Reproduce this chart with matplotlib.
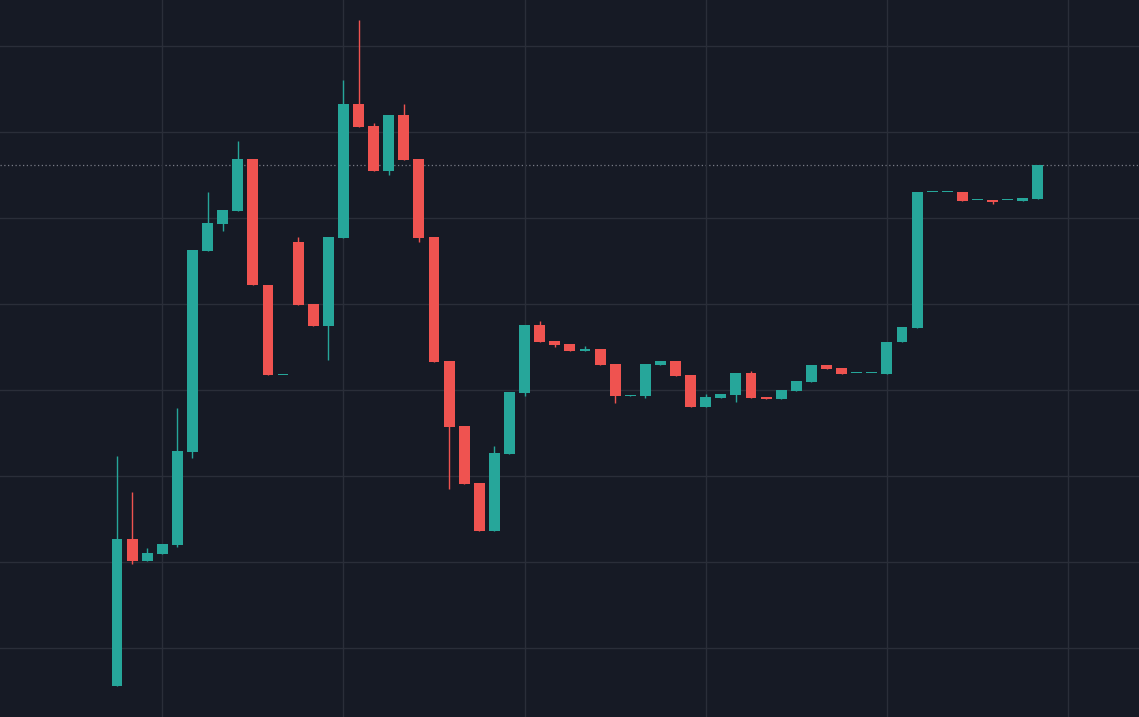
import matplotlib
matplotlib.use("Agg")
import matplotlib.pyplot as plt

# prices (arbitrary units)
opens  = [31, 178, 156, 163, 172, 265, 466, 493, 506, 558, 432, 342, 475, 413, 391, 479, 613, 591, 546, 602, 558, 480, 356, 291, 234, 186, 263, 324, 392, 376, 373, 366, 368, 353, 321, 321, 352, 356, 342, 310, 319, 322, 344, 320, 318, 326, 335, 352, 349, 344, 344, 343, 375, 389, 525, 525, 525, 517, 517, 517, 516, 518]
closes = [178, 156, 164, 173, 266, 467, 494, 507, 558, 432, 342, 342, 412, 391, 480, 613, 590, 546, 602, 557, 479, 355, 290, 233, 186, 264, 325, 392, 375, 372, 366, 368, 352, 321, 322, 353, 356, 341, 310, 320, 323, 344, 319, 318, 327, 336, 352, 348, 343, 344, 344, 375, 390, 525, 525, 525, 516, 517, 515, 517, 519, 552]
highs  = [261, 225, 169, 173, 309, 467, 525, 507, 576, 558, 432, 342, 480, 413, 480, 637, 697, 594, 602, 613, 558, 480, 356, 291, 234, 271, 325, 392, 396, 376, 373, 371, 368, 353, 322, 353, 356, 356, 342, 323, 323, 344, 346, 320, 327, 336, 352, 352, 349, 344, 344, 375, 390, 525, 525, 525, 525, 517, 517, 517, 519, 552]
lows   = [31, 153, 156, 163, 170, 259, 466, 486, 506, 432, 342, 342, 412, 391, 357, 479, 590, 546, 542, 557, 475, 355, 228, 233, 186, 186, 263, 321, 375, 370, 366, 366, 352, 314, 321, 319, 352, 341, 310, 310, 319, 315, 319, 318, 318, 326, 335, 348, 343, 344, 344, 343, 375, 389, 525, 525, 516, 517, 513, 517, 516, 518]
last_price = 552

up_col, dn_col = "#26a69a", "#ef5350"
bg = "#161a25"

fig = plt.figure(figsize=(11.39, 7.17), dpi=100)
fig.patch.set_facecolor(bg)
ax = fig.add_axes([0, 0, 1, 1])
ax.set_facecolor(bg)

for i in range(len(opens)):
    o, c, h, l = opens[i], closes[i], highs[i], lows[i]
    col = up_col if c >= o else dn_col
    ax.vlines(i, l, h, color=col, linewidth=1, zorder=2)
    bot = min(o, c)
    hgt = max(abs(c - o), 1.2)
    ax.bar(i, hgt, bottom=bot, width=0.72, color=col, zorder=3, linewidth=0)

ax.axhline(last_price, color="#787b86", linestyle=(0, (1, 2)), linewidth=0.9, zorder=1)

ax.set_xlim(-7.75, 67.7)
ax.set_ylim(0, 717)
ax.set_xticks(range(3, 68, 12))
ax.set_yticks([69 + 86 * k for k in range(8)])
ax.grid(True, color="#2a2e39", linewidth=1)
ax.tick_params(length=0, labelbottom=False, labelleft=False)
for s in ax.spines.values():
    s.set_visible(False)

fig.savefig("out.png", dpi=100, facecolor=bg)
